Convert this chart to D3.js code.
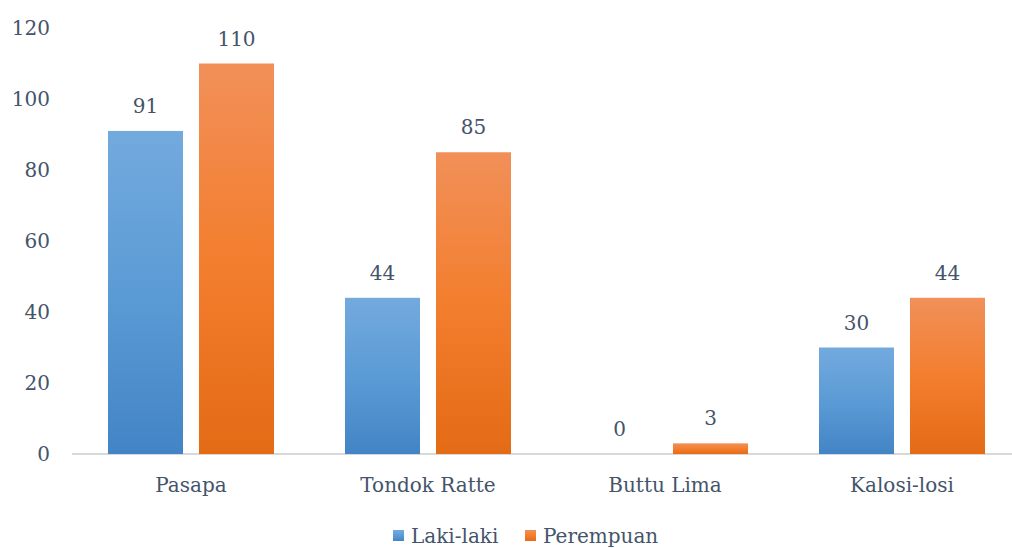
<!DOCTYPE html>
<html>
<head>
<meta charset="utf-8">
<script src="https://cdn.jsdelivr.net/npm/d3@7"></script>
<style>
  body { margin: 0; background: #fff; }
  svg text { font-family: "DejaVu Serif", serif; fill: #44546A; }
</style>
</head>
<body>
<svg id="chart" width="1012" height="548"></svg>
<script>
const categories = ["Pasapa", "Tondok Ratte", "Buttu Lima", "Kalosi-losi"];
const seriesNames = ["Laki-laki", "Perempuan"];
const lakiLaki = [91, 44, 0, 30];
const perempuan = [110, 85, 3, 44];
const yTicks = [0, 20, 40, 60, 80, 100, 120];

const svg = d3.select("#chart");
const fontSize = 20;
const fontFamily = "'DejaVu Serif', serif";

const x = d3.scaleBand()
  .domain(categories)
  .range([72.5, 1020.5]);

const y = d3.scaleLinear()
  .domain([0, 120])
  .range([454, 28]);

const xs = d3.scaleBand()
  .domain(seriesNames)
  .range([35.5, x.bandwidth() - 35.5])
  .paddingInner(16 / 91);

// gradients per series
const defs = svg.append("defs");
const grads = [
  { id: "g-blue", stops: ["#73AADE", "#5B9BD5", "#4384C6"] },
  { id: "g-orange", stops: ["#F19059", "#F37E2E", "#E46B16"] }
];
grads.forEach(g => {
  const lg = defs.append("linearGradient")
    .attr("id", g.id)
    .attr("x1", 0).attr("y1", 0).attr("x2", 0).attr("y2", 1);
  g.stops.forEach((c, i) => {
    lg.append("stop").attr("offset", (i / (g.stops.length - 1) * 100) + "%").attr("stop-color", c);
  });
});

// y axis labels
const yAxis = svg.append("g")
  .attr("transform", "translate(50,0)")
  .call(d3.axisLeft(y).tickValues(yTicks).tickSize(0).tickPadding(0));
yAxis.attr("font-family", null);
yAxis.select(".domain").remove();
yAxis.selectAll("text")
  .attr("font-size", fontSize)
  .style("font-family", fontFamily)
  .attr("fill", "#44546A");

// baseline
svg.append("line")
  .attr("x1", 72).attr("x2", 1012)
  .attr("y1", y(0)).attr("y2", y(0))
  .attr("stroke", "#D9D9D9")
  .attr("stroke-width", 2);

const series = [
  { name: seriesNames[0], values: lakiLaki, fill: "url(#g-blue)" },
  { name: seriesNames[1], values: perempuan, fill: "url(#g-orange)" }
];

series.forEach(s => {
  const g = svg.append("g");
  g.selectAll("rect")
    .data(s.values)
    .enter().append("rect")
    .attr("x", (d, i) => x(categories[i]) + xs(s.name))
    .attr("y", d => y(d))
    .attr("width", xs.bandwidth())
    .attr("height", d => y(0) - y(d))
    .attr("fill", s.fill);

  g.selectAll("text")
    .data(s.values)
    .enter().append("text")
    .attr("x", (d, i) => x(categories[i]) + xs(s.name) + xs.bandwidth() / 2)
    .attr("y", d => y(d) - 18)
    .attr("text-anchor", "middle")
    .attr("font-size", fontSize)
    .text(d => d);
});

// category labels
const xAxis = svg.append("g")
  .attr("transform", "translate(0," + y(0) + ")")
  .call(d3.axisBottom(x).tickSize(0).tickPadding(24));
xAxis.attr("font-family", null);
xAxis.select(".domain").remove();
xAxis.selectAll("text")
  .attr("font-size", fontSize)
  .style("font-family", fontFamily)
  .attr("fill", "#44546A");

// legend
const legendX = [393, 525];
const legend = svg.append("g");
series.forEach((s, i) => {
  legend.append("rect")
    .attr("x", legendX[i]).attr("y", 530)
    .attr("width", 11).attr("height", 11)
    .attr("fill", s.fill);
  legend.append("text")
    .attr("x", legendX[i] + 18)
    .attr("y", 543)
    .attr("font-size", fontSize)
    .text(s.name);
});
</script>
</body>
</html>
